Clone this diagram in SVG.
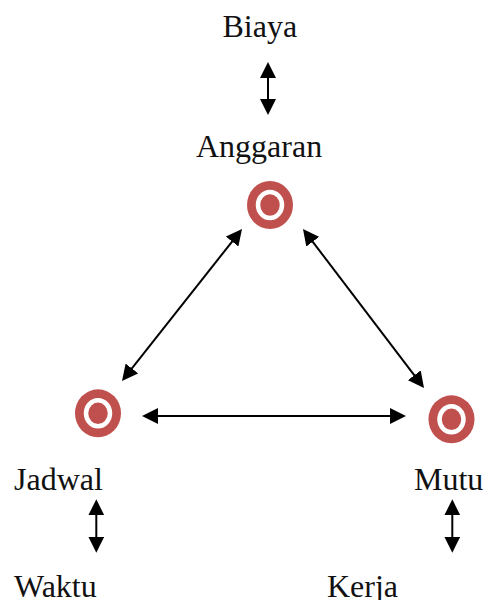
<svg xmlns="http://www.w3.org/2000/svg" width="485" height="600" viewBox="0 0 485 600">
<style>
text{font-family:"Liberation Serif","Times New Roman",serif;font-size:32px;fill:#111}
.c{stroke:#000;stroke-width:2;fill:none;marker-start:url(#a);marker-end:url(#a)}
.o{fill:#c0504d}
.r{fill:none;stroke:#fff;stroke-width:4.5}
</style>
<defs><marker id="a" markerUnits="userSpaceOnUse" markerWidth="16" markerHeight="16" refX="8" refY="8" orient="auto-start-reverse"><path d="M0 0L16 8L0 16Z" fill="#000"/></marker></defs>
<rect width="485" height="600" fill="#fff"/>
<g id="connectors">
<line class="c" x1="268" y1="70" x2="268" y2="107"/>
<line class="c" x1="96.300" y1="507.300" x2="96.300" y2="544.700"/>
<line class="c" x1="452.300" y1="507.300" x2="452.300" y2="544.700"/>
<line class="c" x1="150" y1="416" x2="398" y2="416"/>
<line class="c" x1="237.040" y1="235.280" x2="126.960" y2="374.720"/>
<line class="c" x1="307.850" y1="235.370" x2="419.150" y2="381.630"/>
</g>
<g id="node-anggaran"><ellipse class="o" cx="270" cy="205" rx="23" ry="24"/><ellipse class="r" cx="270" cy="205" rx="12" ry="13"/></g>
<g id="node-jadwal"><ellipse class="o" cx="98" cy="413.300" rx="23" ry="24"/><ellipse class="r" cx="98" cy="413.300" rx="12" ry="13"/></g>
<g id="node-mutu"><ellipse class="o" cx="451.500" cy="419.300" rx="23" ry="24"/><ellipse class="r" cx="451.500" cy="419.300" rx="12" ry="13"/></g>
<g id="label-biaya"><text x="222.500" y="37">Biaya</text></g>
<g id="label-anggaran"><text x="196" y="157">Anggaran</text></g>
<g id="label-jadwal"><text x="14" y="490">Jadwal</text></g>
<g id="label-mutu"><text x="414" y="490">Mutu</text></g>
<g id="label-waktu"><text x="14" y="597">Waktu</text></g>
<g id="label-kerja"><text x="327" y="597">Kerja</text></g>
</svg>
